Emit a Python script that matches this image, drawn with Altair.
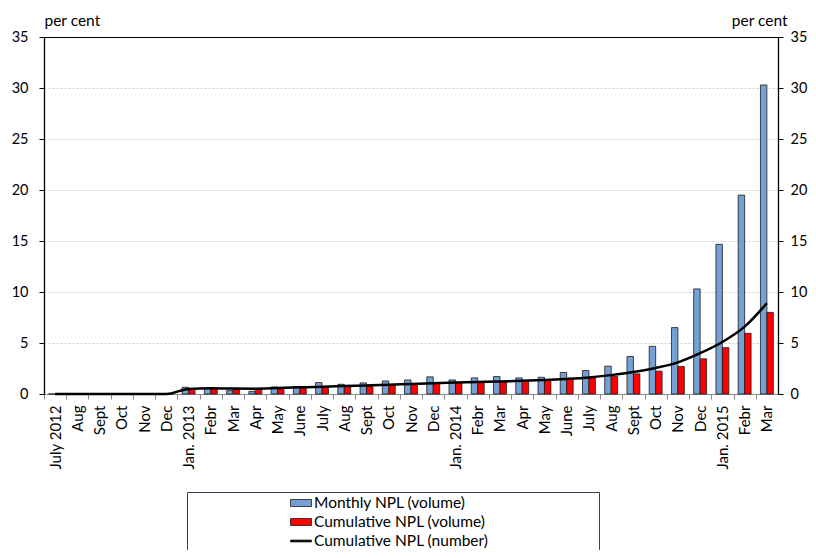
import json
import altair as alt
import pandas as pd

# ---- data ----
month_labels = ["July 2012", "Aug", "Sept", "Oct", "Nov", "Dec",
                "Jan. 2013", "Febr", "Mar", "Apr", "May", "June", "July", "Aug", "Sept", "Oct", "Nov", "Dec",
                "Jan. 2014", "Febr", "Mar", "Apr", "May", "June", "July", "Aug", "Sept", "Oct", "Nov", "Dec",
                "Jan. 2015", "Febr", "Mar"]

monthly_volume = [0, 0, 0, 0, 0, 0,
                  0.66, 0.56, 0.33, 0.26, 0.69, 0.69, 1.12, 0.95, 1.09, 1.28, 1.38, 1.68,
                  1.38, 1.58, 1.71, 1.58, 1.64, 2.11, 2.30, 2.73, 3.68, 4.67, 6.51, 10.3,
                  14.67, 19.5, 30.3]

cumulative_volume = [0, 0, 0, 0, 0, 0,
                     0.46, 0.49, 0.43, 0.43, 0.49, 0.56, 0.63, 0.72, 0.76, 0.82, 0.92, 1.05,
                     1.12, 1.22, 1.25, 1.32, 1.38, 1.51, 1.61, 1.71, 1.97, 2.24, 2.70, 3.45,
                     4.54, 5.95, 8.0]

cumulative_number = [0, 0, 0, 0, 0, 0,
                     0.50, 0.57, 0.53, 0.52, 0.58, 0.65, 0.72, 0.78, 0.84, 0.90, 0.98, 1.05,
                     1.12, 1.18, 1.23, 1.30, 1.38, 1.48, 1.62, 1.85, 2.15, 2.55, 3.10, 4.00,
                     5.10, 6.60, 8.90]

series_names = ["Monthly NPL (volume)", "Cumulative NPL (volume)", "Cumulative NPL (number)"]
series_colors = ["#74A0D4", "#FF0000", "#000000"]
y_ticks = [0, 5, 10, 15, 20, 25, 30, 35]

# ---- tables ----
idx = list(range(len(month_labels)))
bars_df = pd.DataFrame({
    "idx": idx * 2,
    "series": [series_names[0]] * len(idx) + [series_names[1]] * len(idx),
    "value": monthly_volume + cumulative_volume,
})
line_df = pd.DataFrame({"idx": idx, "value": cumulative_number})

FONT = "Lato"
W, H = 734, 357
step = W / len(month_labels)

x_axis = alt.Axis(
    title=None,
    labelExpr=json.dumps(month_labels) + "[datum.value]",
    labelAngle=270,
    labelFont=FONT, labelFontSize=15, labelColor="#000000",
    labelPadding=6, labelOverlap=False,
    bandPosition=0.5, tickOffset=-step / 2, labelOffset=step / 2,
    domainColor="#8a8a8a", tickColor="#8a8a8a", tickSize=5,
    grid=False,
)

y_scale = alt.Scale(domain=[0, 35], nice=False, zero=True)

left_axis = alt.Axis(
    values=y_ticks, orient="left",
    title="per cent", titleAngle=0, titleX=0, titleY=-12, titleAlign="left",
    titleBaseline="alphabetic", titleFont=FONT, titleFontSize=15.5, titleFontWeight="normal",
    titleColor="#000000",
    labelFont=FONT, labelFontSize=14.5, labelColor="#000000", labelPadding=11,
    domainColor="#000000", domainWidth=1.3, tickColor="#000000", tickSize=5,
    grid=True,
    gridColor={"condition": {"test": "datum.value === 35", "value": "#000000"},
               "value": "#cfcfcf"},
    gridDash={"condition": {"test": "datum.value === 35", "value": []},
              "value": [2, 2]},
    gridOpacity={"condition": {"test": "datum.value === 0", "value": 0}, "value": 1},
)

right_axis = alt.Axis(
    values=y_ticks, orient="right",
    title="per cent", titleAngle=0, titleX=9, titleY=-12, titleAlign="right",
    titleBaseline="alphabetic", titleFont=FONT, titleFontSize=15.5, titleFontWeight="normal",
    titleColor="#000000",
    labelFont=FONT, labelFontSize=14.5, labelColor="#000000", labelPadding=7,
    domainColor="#000000", domainWidth=1.3, tickColor="#000000", tickSize=5,
    grid=False,
)

color_scale = alt.Scale(domain=series_names, range=series_colors)

line_test = "datum.value === '" + series_names[2] + "'"
legend = alt.Legend(
    orient="none", legendX=143, legendY=455,
    title="\u00a0", titleOrient="right", titlePadding=110, titleFontSize=10,
    strokeColor="#3c3c5a", padding=1,
    symbolType={"expr": line_test + " ? 'M-1.105,-0.1H1.105V0.1H-1.105Z' : 'M-1.105,-0.37H1.105V0.37H-1.105Z'"},
    symbolSize=361, symbolOffset=103,
    symbolStrokeColor="#1a1a1a", symbolStrokeWidth=0.8,
    labelFont=FONT, labelFontSize=15.5, labelColor="#000000", labelOffset=3,
    rowPadding=0, labelLimit=500,
)

bars = alt.Chart(bars_df).mark_bar(stroke="#1a1a1a", strokeWidth=0.8).encode(
    x=alt.X("idx:O", axis=x_axis, scale=alt.Scale(paddingInner=0.42, paddingOuter=0.21)),
    xOffset=alt.XOffset("series:N", sort=series_names[:2]),
    y=alt.Y("value:Q", scale=y_scale, axis=left_axis),
    color=alt.Color("series:N", scale=color_scale, legend=legend),
)

line = alt.Chart(line_df).mark_line(interpolate="monotone", color="#000000", strokeWidth=2.5).encode(
    x=alt.X("idx:O"),
    y=alt.Y("value:Q", scale=y_scale, axis=right_axis),
)

chart = alt.layer(bars, line).resolve_scale(y="independent").properties(
    width=W, height=H,
    autosize=alt.AutoSizeParams(type="none"),
    padding={"left": 36, "top": 29, "right": 30, "bottom": 156},
).configure_view(stroke="transparent").configure(font=FONT)

chart.save("out.html", embed_options={"renderer": "svg", "actions": False})
